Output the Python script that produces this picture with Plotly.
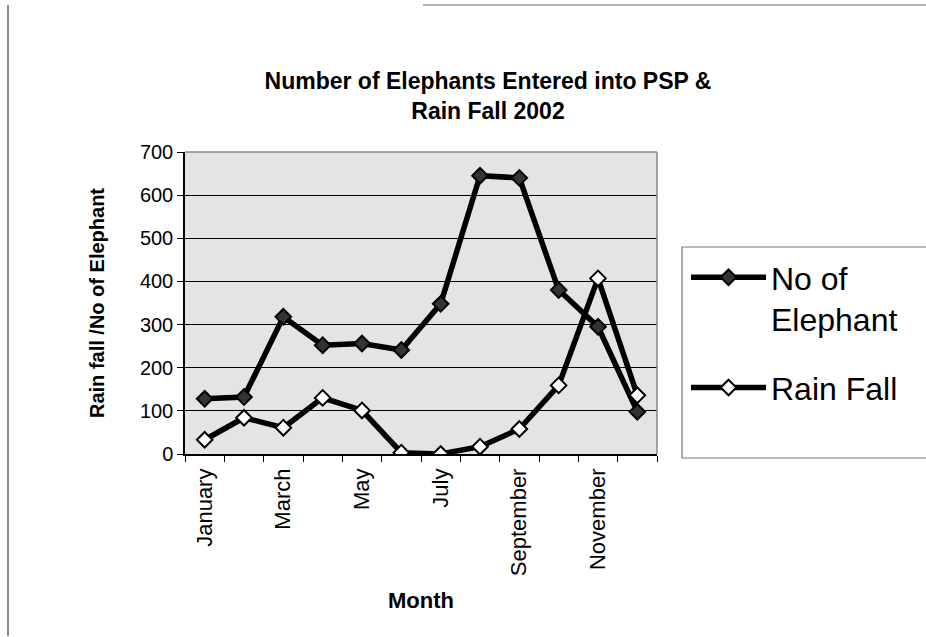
import plotly.graph_objects as go

months = ["January", "February", "March", "April", "May", "June", "July",
          "August", "September", "October", "November", "December"]
elephants = [128, 132, 318, 252, 256, 241, 348, 645, 640, 380, 295, 98]
rainfall = [33, 84, 61, 130, 101, 3, 0, 17, 58, 159, 407, 136]
y_ticks = [0, 100, 200, 300, 400, 500, 600, 700]

xi = list(range(len(months)))
label_idx = xi[::2]
label_txt = months[::2]

W, H = 926, 637
L, R, T, B = 185, 269, 152, 183
pw, ph = W - L - R, H - T - B

def px(xp):
    return (xp - L) / pw

def py(yp):
    return (H - B - yp) / ph

FONT = "Liberation Sans, Arial, sans-serif"

fig = go.Figure()
fig.add_trace(go.Scatter(
    x=xi, y=elephants, name="No of<br>Elephant", mode="lines+markers",
    legendgroup="eleph",
    line=dict(color="black", width=5.5),
    marker=dict(symbol="diamond", size=12, color="#333333",
                line=dict(color="black", width=2)),
))
fig.add_trace(go.Scatter(
    x=xi, y=rainfall, name="Rain Fall", mode="lines+markers",
    legendgroup="rain",
    line=dict(color="black", width=5.5),
    marker=dict(symbol="diamond", size=12, color="white",
                line=dict(color="black", width=2)),
))

fig.update_layout(
    width=W, height=H,
    margin=dict(l=L, r=R, t=T, b=B),
    paper_bgcolor="white",
    plot_bgcolor="#e4e4e4",
    font=dict(family=FONT, color="black"),
    title=dict(
        text="<b>Number of Elephants Entered into PSP &<br>Rain Fall 2002</b>",
        xref="container", yref="container",
        x=488 / W, xanchor="center", y=1 - 89 / H, yanchor="middle",
        font=dict(size=23, family=FONT, color="black"),
    ),
    showlegend=True,
    legend=dict(
        x=px(686), xanchor="left", y=py(250), yanchor="top",
        bgcolor="rgba(0,0,0,0)", borderwidth=0,
        font=dict(size=32, family=FONT, color="black"),
        valign="top", tracegroupgap=24, itemwidth=75,
    ),
    xaxis=dict(
        range=[-0.5, len(months) - 0.5],
        tickmode="array", tickvals=label_idx, ticktext=label_txt,
        tickangle=-90, ticks="", tickfont=dict(size=22, family=FONT),
        ticklabelstandoff=4,
        showgrid=False, zeroline=False,
        showline=True, linecolor="black", linewidth=1.5, mirror=False,
        minor=dict(tickmode="linear", tick0=-0.5, dtick=1, ticks="outside",
                   ticklen=6, tickcolor="black", showgrid=False),
        title=dict(text="<b>Month</b>", font=dict(size=22, family=FONT),
                   standoff=17),
        automargin=False,
    ),
    yaxis=dict(
        range=[0, 700], tickmode="array", tickvals=y_ticks,
        ticks="outside", ticklen=6, tickcolor="black",
        tickfont=dict(size=20, family=FONT),
        showgrid=True, gridcolor="black", gridwidth=1.2,
        zeroline=False, showline=True, linecolor="black", linewidth=1.5,
        title=dict(text="<b>Rain fall /No of Elephant</b>",
                   font=dict(size=20, family=FONT), standoff=30),
        automargin=False,
    ),
    shapes=[
        dict(type="line", xref="paper", yref="paper", x0=1, x1=1, y0=0, y1=1,
             line=dict(color="#888888", width=1.5)),
        dict(type="line", xref="paper", yref="paper", x0=0, x1=1, y0=1, y1=1,
             line=dict(color="#888888", width=1.5)),
        dict(type="rect", xref="paper", yref="paper",
             x0=px(682), x1=px(940), y0=py(458), y1=py(247),
             line=dict(color="#777777", width=1.2)),
        dict(type="line", xref="paper", yref="paper",
             x0=px(8), x1=px(8), y0=py(636), y1=py(5),
             line=dict(color="#666666", width=1.5)),
        dict(type="line", xref="paper", yref="paper",
             x0=px(423), x1=px(926), y0=py(5), y1=py(5),
             line=dict(color="#999999", width=1.5)),
    ],
)

fig.write_html("out.html", config={"displayModeBar": False},
               post_script="document.body.style.margin='0';document.body.style.overflow='hidden';")
